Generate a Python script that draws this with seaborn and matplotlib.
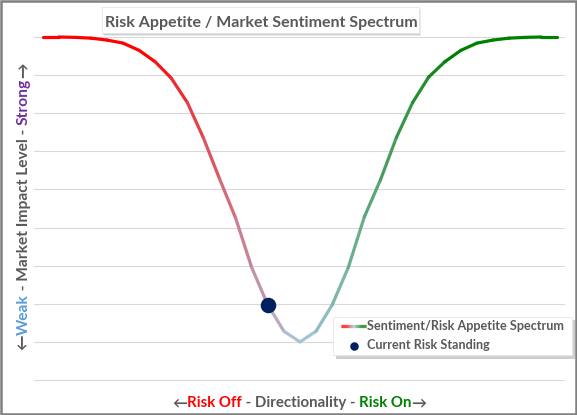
import numpy as np
import pandas as pd
import matplotlib
matplotlib.use("Agg")
import matplotlib.pyplot as plt
import seaborn as sns
from matplotlib.colors import LinearSegmentedColormap
from matplotlib.collections import LineCollection
from matplotlib.legend_handler import HandlerBase
from matplotlib.lines import Line2D
from matplotlib.patches import Rectangle
from matplotlib.path import Path

# ---------------- data ----------------
sentiment_x = list(range(-16, 17))
impact_level = [9.00, 9.00, 8.99, 8.97, 8.92, 8.84, 8.65, 8.35, 7.92, 7.28, 6.35,
                5.28, 4.25, 2.95, 1.97, 1.28, 1.00, 1.28, 1.97, 2.95, 4.28, 5.25,
                6.37, 7.28, 7.95, 8.35, 8.65, 8.84, 8.92, 8.97, 8.99, 9.00, 9.00]
current_x = [-2]
current_y = [1.97]
y_ticks = list(range(0, 10))

title_text = "Risk Appetite / Market Sentiment Spectrum"
line_label = "Sentiment/Risk Appetite Spectrum"
dot_label = "Current Risk Standing"

GRAY = "#595959"
RED = "#ff0000"
GREEN = "#008000"
BLUE = "#5b9bd5"
PURPLE = "#7030a0"
NAVY = "#002060"

xlabel_parts = [("←", GRAY), ("Risk Off", RED), (" - Directionality - ", GRAY),
                ("Risk On", GREEN), ("→", GRAY)]
ylabel_parts = [("←", GRAY), ("Weak", BLUE), (" - Market Impact Level - ", GRAY),
                ("Strong", PURPLE), ("→", GRAY)]

# ---------------- style ----------------
sns.set_style("white")
FONTS = ["Lato", "DejaVu Sans"]
plt.rcParams["font.family"] = FONTS

W, H = 577, 415
fig = plt.figure(figsize=(W / 100, H / 100), dpi=100)
fig.patch.set_facecolor("white")

def fx(px):
    return px / W

def fy(py):  # py measured from top
    return 1 - py / H

# axes geometry (pixels): x -16.53..16.47 -> 34..565 ; y 0..9 -> 380..37
unit = (380 - 37) / 9.0
ylo, yhi = -0.2, 9.2
ax_bottom_px = 380 + (0 - ylo) * unit
ax_top_px = 37 - (yhi - 9) * unit
ax = fig.add_axes([fx(34), fy(ax_bottom_px), fx(565) - fx(34), (ax_bottom_px - ax_top_px) / H])
ax.set_facecolor("white")

cmap = LinearSegmentedColormap.from_list(
    "spectrum", [(0.0, "#ff0000"), (0.2, "#ff0000"), (0.5, "#abc8e4"),
                 (0.8, "#008000"), (1.0, "#008000")])

# segment table built from the arrays (each segment coloured by its position)
xmin, xmax = min(sentiment_x), max(sentiment_x)
rows = []
for k in range(len(sentiment_x) - 1):
    t = ((sentiment_x[k] + sentiment_x[k + 1]) / 2 - xmin) / (xmax - xmin)
    rows.append((sentiment_x[k], impact_level[k], k, t))
    rows.append((sentiment_x[k + 1], impact_level[k + 1], k, t))
seg_df = pd.DataFrame(rows, columns=["x", "y", "seg", "t"])

sns.lineplot(data=seg_df, x="x", y="y", hue="t", units="seg", estimator=None,
             palette=cmap, hue_norm=(0, 1), legend=False, lw=2.3, sort=False,
             solid_capstyle="round", ax=ax, zorder=3)
sns.scatterplot(x=current_x, y=current_y, s=125, color=NAVY, edgecolor=NAVY,
                linewidth=0, zorder=5, ax=ax, label=dot_label)

ax.set_xlim(-16.53, 16.47)
ax.set_ylim(ylo, yhi)
ax.set_yticks(y_ticks)
ax.set_xticks([])
ax.tick_params(left=False, bottom=False, labelleft=False, labelbottom=False)
ax.grid(axis="y", color="#d9d9d9", lw=0.8)
ax.grid(axis="x", visible=False)
for s in ax.spines.values():
    s.set_visible(False)
ax.set_xlabel("")
ax.set_ylabel("")

fig.canvas.draw()
renderer = fig.canvas.get_renderer()

def text_width(s, size, weight="bold"):
    t = fig.text(0, 0, s, fontsize=size, fontweight=weight, family=FONTS)
    w = t.get_window_extent(renderer).width
    t.remove()
    return w

# ---------------- title with box ----------------
tb = (102, 7, 419, 33)  # x0, y0, x1, y1 in px from top-left
for off, a in [(3, 0.15), (2, 0.25), (1, 0.35)]:
    fig.patches.append(Rectangle((fx(tb[0] + off * 0.5), fy(tb[3] + off)),
                                 fx(tb[2] - tb[0]), (tb[3] - tb[1]) / H,
                                 transform=fig.transFigure, facecolor="#7f7f7f",
                                 edgecolor="none", alpha=a, zorder=1))
fig.patches.append(Rectangle((fx(tb[0]), fy(tb[3])), fx(tb[2] - tb[0]), (tb[3] - tb[1]) / H,
                             transform=fig.transFigure, facecolor="white",
                             edgecolor="#e6e6e6", lw=0.6, zorder=2))
tsize = 12 * 312 / text_width(title_text, 12)
fig.text(fx(105), fy(27), title_text, fontsize=tsize, fontweight="bold", color=GRAY,
         ha="left", va="baseline", family=FONTS, zorder=3)

# ---------------- multi-coloured axis labels ----------------
def place_parts(parts, target_px, start_px, base_px, rotate):
    full = "".join(p for p, _ in parts)
    size = 12 * target_px / text_width(full, 12)
    for i, (p, c) in enumerate(parts):
        prefix = "".join(q for q, _ in parts[:i])
        offset = text_width(prefix, size) if prefix else 0.0
        if rotate:
            fig.text(fx(base_px), fy(start_px - offset), p, fontsize=size, fontweight="bold",
                     color=c, rotation=90, rotation_mode="anchor", ha="left",
                     va="baseline", family=FONTS)
        else:
            fig.text(fx(start_px + offset), fy(base_px), p, fontsize=size, fontweight="bold",
                     color=c, ha="left", va="baseline", family=FONTS)

place_parts(xlabel_parts, 253, 172, 407, rotate=False)
place_parts(ylabel_parts, 287, 350, 28, rotate=True)

# ---------------- legend ----------------
class HandlerGradient(HandlerBase):
    def create_artists(self, legend, orig_handle, xdescent, ydescent, width, height,
                       fontsize, trans):
        xs = np.linspace(0, width, 40) - xdescent
        yv = height / 2 - ydescent
        pts = np.column_stack([xs, np.full_like(xs, yv)]).reshape(-1, 1, 2)
        segs = np.concatenate([pts[:-1], pts[1:]], axis=1)
        lc = LineCollection(segs, colors=cmap(np.linspace(0, 1, len(segs))),
                            linewidths=2.3, transform=trans)
        return [lc]

class PadBox:
    def __init__(self, padx, pady):
        self.padx, self.pady = padx, pady
    def __call__(self, x0, y0, width, height, mutation_size):
        x0 -= self.padx; y0 -= self.pady
        x1 = x0 + width + 2 * self.padx
        y1 = y0 + height + 2 * self.pady
        return Path([(x0, y0), (x1, y0), (x1, y1), (x0, y1), (x0, y0)], closed=True)

grad_handle = Line2D([], [], label=line_label)
h, l = ax.get_legend_handles_labels()
dot_handle = h[l.index(dot_label)]

def make_legend(fs):
    leg = ax.legend([grad_handle, dot_handle], [line_label, dot_label],
                    handler_map={grad_handle: HandlerGradient()},
                    loc="upper left", bbox_to_anchor=(fx(341), fy(320.5)),
                    bbox_transform=fig.transFigure, borderaxespad=0, borderpad=0,
                    handlelength=18 / fs, handletextpad=0.05, labelspacing=0.55,
                    markerscale=0.55, frameon=True, fancybox=False,
                    prop={"family": FONTS, "weight": "bold", "size": fs},
                    labelcolor=GRAY, shadow={"color": "#9a9a9a", "alpha": 0.45})
    leg.get_frame().set_facecolor("white")
    leg.get_frame().set_edgecolor("#e6e6e6")
    leg.get_frame().set_linewidth(0.6)
    leg.get_frame().set_boxstyle(PadBox(8, 3.5))
    return leg

leg = make_legend(9)
fig.canvas.draw()
w0 = leg.get_texts()[0].get_window_extent(renderer).width
leg.remove()
leg = make_legend(9 * 197 / w0)

# ---------------- outer border ----------------
fig.patches.append(Rectangle((fx(1.2), 1.2 / H), fx(W - 2.4), (H - 2.4) / H,
                             transform=fig.transFigure, fill=False,
                             edgecolor="#808080", lw=1.8, zorder=10))

fig.savefig("out.png", dpi=100, facecolor="white")
